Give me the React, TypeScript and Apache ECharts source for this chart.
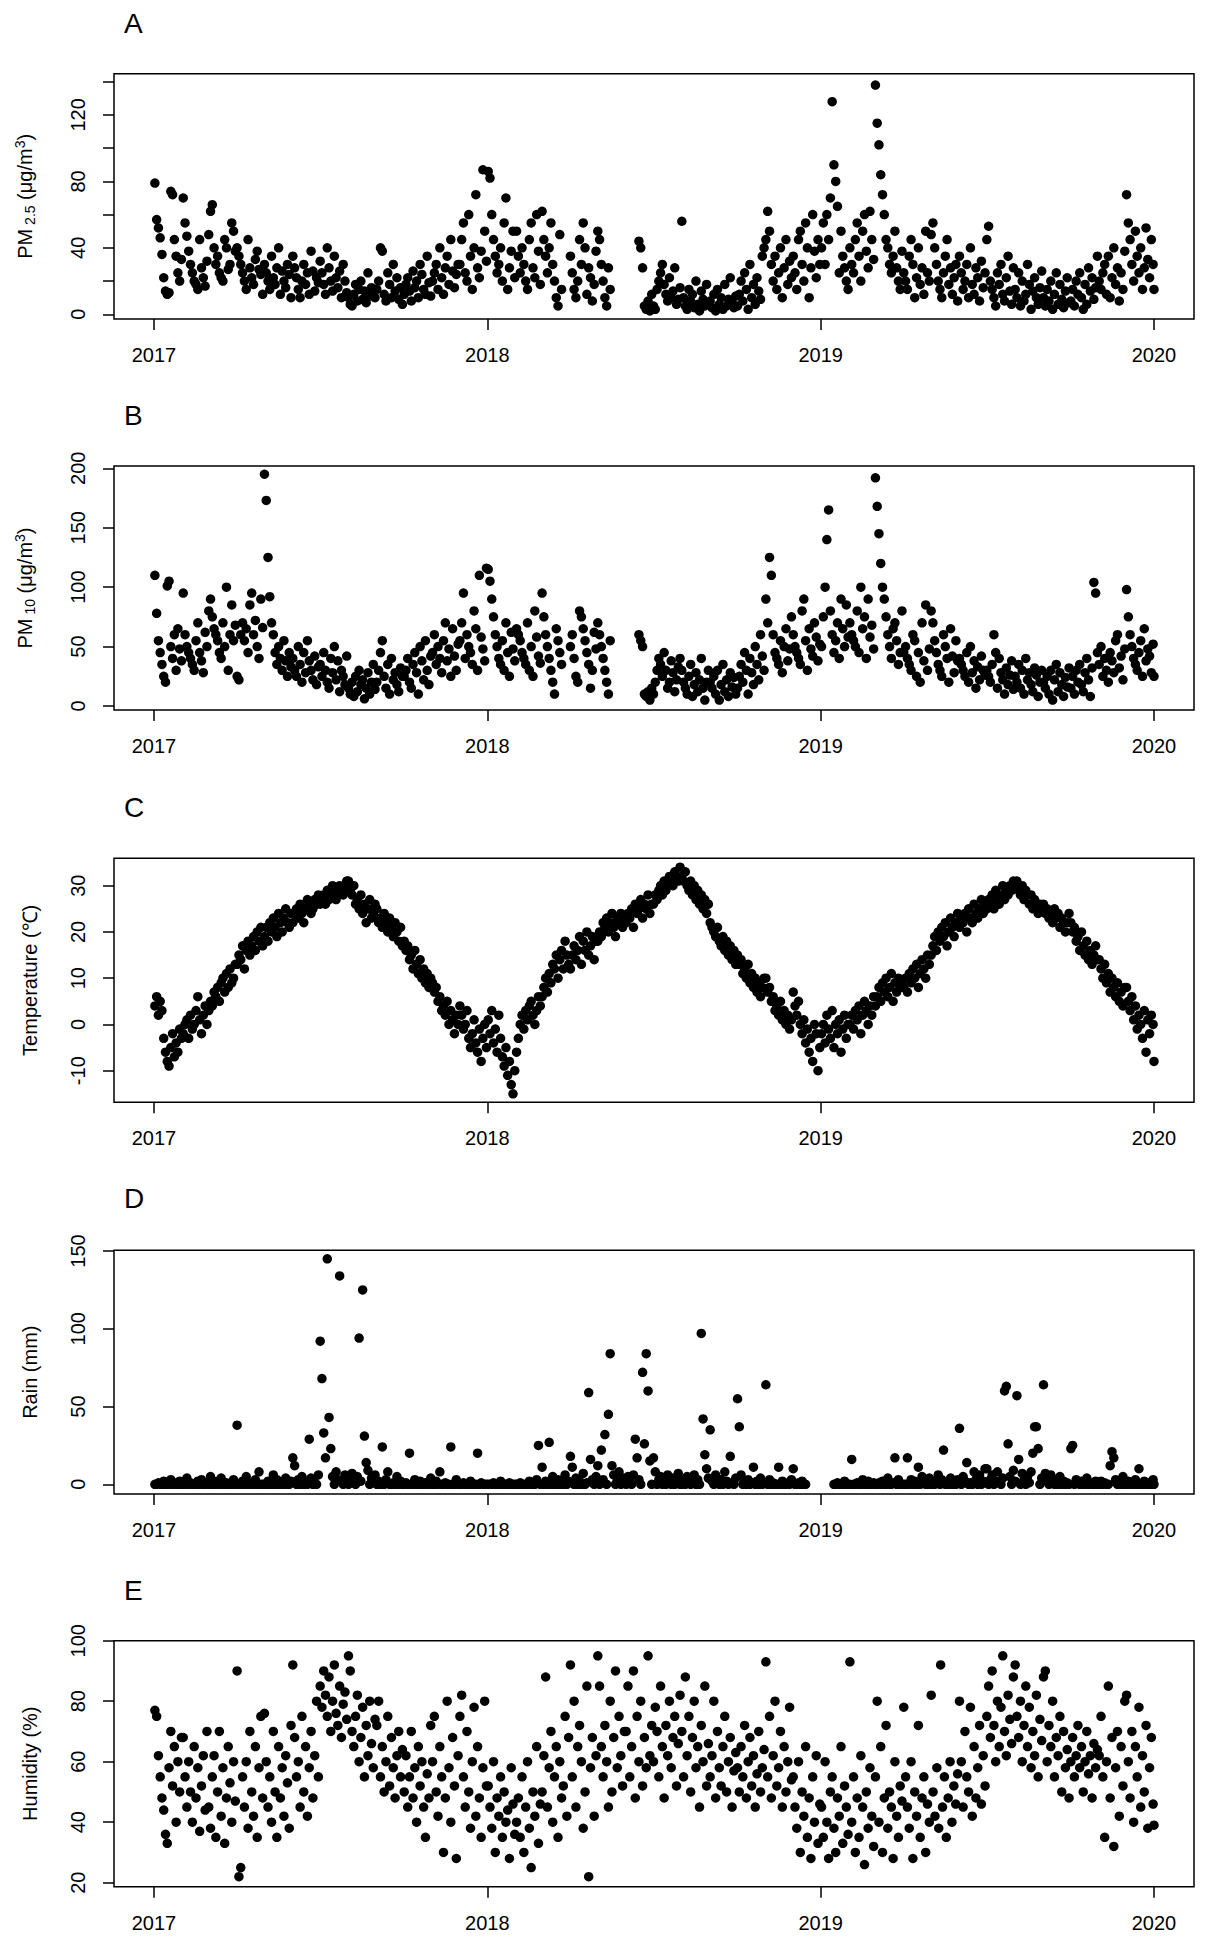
import React, { useEffect, useRef } from 'react';
import * as echarts from 'echarts';

type M = (number | null)[][];
const _ = null;

// ---------- PM2.5 (µg/m3), every ~2 days, one inner array per month ----------
const pm25_2017: M = [
  [79, 57, 52, 46, 36, 22, 14, 12, 13, 74, 72, 45, 35, 25, 20, 33],
  [70, 55, 47, 38, 30, 25, 20, 18, 15, 45, 28, 22, 17, 32],
  [48, 62, 66, 40, 30, 35, 25, 22, 20, 45, 40, 27, 30, 55, 50, 38],
  [40, 35, 30, 25, 20, 15, 45, 28, 22, 18, 33, 38, 27, 24, 12],
  [30, 25, 20, 15, 35, 22, 18, 28, 40, 12, 26, 20, 16, 30, 24, 10],
  [35, 28, 22, 15, 10, 20, 30, 18, 25, 12, 38, 26, 14, 22, 19],
  [32, 25, 18, 12, 40, 28, 20, 14, 35, 22, 16, 26, 10, 30, 20, 13],
  [10, 6, 5, 12, 18, 8, 15, 20, 9, 14, 7, 25, 11, 16, 13, 10],
  [15, 20, 40, 38, 12, 8, 25, 18, 10, 30, 14, 22, 9, 16, 6],
  [12, 18, 22, 14, 8, 26, 16, 20, 10, 30, 24, 15, 12, 35, 19, 11],
  [20, 25, 30, 15, 40, 22, 12, 28, 35, 18, 45, 26, 16, 24, 30],
  [30, 45, 55, 25, 20, 60, 35, 15, 40, 72, 28, 22, 38, 87, 50, 32],
];
const pm25_2018: M = [
  [86, 82, 60, 45, 35, 25, 30, 40, 20, 55, 70, 15, 28, 38, 50, 22],
  [50, 35, 25, 40, 30, 20, 15, 45, 55, 28, 22, 60, 38, 18],
  [62, 45, 35, 25, 40, 55, 30, 20, 10, 5, 48, 15, _, _, _, _],
  [35, 25, 15, 10, 20, 45, 30, 55, 40, 12, 28, 22, 8, 18, 38],
  [50, 45, 30, 20, 10, 5, 28, 15, _, _, _, _, _, _, _, _],
  [_, _, _, _, _, _, _, 44, 40, 28, 5, 3, 8, 2, 12],
  [5, 3, 15, 20, 25, 30, 18, 12, 8, 22, 10, 14, 28, 6, 9, 16],
  [56, 10, 5, 3, 15, 8, 12, 4, 20, 6, 2, 14, 9, 5, 18, 7],
  [8, 4, 12, 2, 15, 6, 10, 3, 18, 5, 9, 22, 7, 4, 11],
  [5, 12, 20, 8, 25, 15, 3, 30, 10, 18, 6, 22, 14, 9, 35, 40],
  [45, 62, 50, 30, 20, 35, 15, 25, 40, 10, 28, 45, 18, 32, 22],
  [35, 25, 15, 45, 50, 30, 20, 55, 40, 10, 28, 60, 38, 22, 45, 30],
];
const pm25_2019: M = [
  [40, 55, 30, 60, 45, 70, 128, 90, 80, 65, 25, 50, 35, 28, 20, 15],
  [40, 30, 25, 45, 55, 35, 20, 50, 60, 38, 28, 62, 45, 33],
  [138, 115, 102, 84, 72, 60, 45, 40, 30, 25, 35, 50, 28, 20, 15, 38],
  [25, 20, 15, 35, 45, 30, 10, 22, 40, 18, 28, 12, 50, 25, 20],
  [48, 55, 40, 30, 20, 15, 10, 25, 35, 45, 18, 28, 12, 22, 30, 8],
  [35, 25, 15, 20, 30, 10, 40, 18, 12, 28, 22, 8, 32, 16, 25],
  [45, 53, 20, 15, 10, 5, 25, 18, 30, 12, 8, 22, 35, 14, 6, 28],
  [15, 10, 25, 5, 20, 8, 12, 30, 18, 3, 14, 22, 10, 6, 16, 26],
  [10, 5, 15, 8, 20, 3, 12, 25, 6, 18, 9, 4, 14, 22, 7],
  [8, 15, 5, 20, 12, 25, 10, 3, 18, 6, 28, 14, 22, 9, 16, 35],
  [20, 15, 25, 30, 12, 35, 10, 22, 40, 18, 28, 8, 25, 15, 38],
  [72, 55, 45, 30, 20, 50, 35, 25, 40, 15, 28, 52, 33, 22, 45, 30],
];
const pm25_last = 15;

// ---------- PM10 (µg/m3) ----------
const pm10_2017: M = [
  [110, 78, 55, 45, 35, 25, 20, 101, 105, 50, 40, 60, 30, 65, 48, 38],
  [95, 60, 50, 45, 40, 35, 30, 55, 70, 45, 38, 28, 62, 50],
  [80, 90, 75, 65, 60, 55, 45, 40, 70, 50, 100, 30, 60, 85, 55, 68],
  [25, 22, 60, 70, 55, 65, 45, 85, 95, 60, 72, 50, 40, 90, 66],
  [195, 173, 125, 92, 70, 60, 45, 35, 50, 40, 30, 55, 38, 25, 45, 33],
  [40, 30, 25, 50, 35, 20, 45, 28, 55, 38, 30, 22, 42, 18, 33],
  [35, 25, 45, 30, 20, 15, 40, 28, 50, 22, 38, 12, 30, 25, 18, 42],
  [15, 10, 20, 8, 25, 12, 30, 18, 22, 6, 15, 28, 10, 20, 35, 14],
  [20, 30, 45, 55, 25, 15, 35, 10, 40, 22, 28, 18, 12, 32, 25],
  [25, 30, 40, 20, 15, 35, 45, 28, 10, 50, 38, 22, 55, 30, 18, 42],
  [45, 60, 35, 50, 40, 28, 55, 70, 38, 48, 25, 65, 42, 30, 52],
  [55, 70, 95, 40, 60, 50, 45, 35, 80, 65, 30, 110, 58, 48, 38, 116],
];
const pm10_2018: M = [
  [115, 105, 90, 75, 60, 50, 40, 35, 55, 30, 70, 45, 25, 62, 48, 38],
  [65, 60, 55, 45, 40, 35, 70, 30, 50, 25, 80, 58, 42, 36],
  [95, 75, 60, 50, 40, 30, 20, 10, 65, 55, 45, 35, _, _, _, _],
  [50, 60, 40, 25, 20, 80, 75, 65, 55, 45, 35, 15, 30, 62, 48],
  [70, 60, 50, 40, 30, 20, 10, 55, _, _, _, _, _, _, _, _],
  [_, _, _, _, _, _, _, 60, 55, 50, 10, 8, 12, 5, 15],
  [10, 20, 30, 40, 35, 25, 45, 30, 15, 20, 38, 28, 12, 22, 33, 40],
  [30, 20, 15, 10, 25, 35, 8, 18, 28, 12, 22, 40, 15, 5, 20, 30],
  [20, 15, 25, 10, 30, 5, 18, 35, 12, 22, 8, 28, 16, 24, 10],
  [15, 25, 35, 20, 45, 30, 10, 40, 28, 18, 50, 35, 22, 60, 42, 30],
  [90, 70, 125, 110, 60, 45, 40, 35, 55, 28, 50, 65, 38, 48, 75],
  [60, 50, 45, 40, 35, 80, 90, 55, 30, 65, 48, 42, 70, 58, 38, 52],
];
const pm10_2019: M = [
  [50, 75, 100, 140, 165, 80, 60, 45, 55, 70, 40, 90, 65, 50, 85, 58],
  [70, 60, 55, 50, 80, 45, 100, 65, 75, 40, 90, 58, 68, 48],
  [192, 168, 145, 120, 100, 90, 75, 60, 50, 40, 65, 70, 55, 35, 45, 80],
  [45, 50, 40, 35, 30, 60, 55, 25, 45, 20, 70, 38, 85, 30, 48],
  [80, 70, 55, 45, 35, 30, 25, 60, 50, 40, 20, 65, 42, 28, 55, 38],
  [40, 35, 30, 25, 45, 20, 50, 28, 38, 15, 33, 22, 42, 30, 26],
  [30, 25, 20, 35, 60, 45, 15, 40, 28, 22, 10, 32, 18, 26, 38, 14],
  [25, 20, 35, 15, 30, 10, 40, 22, 28, 18, 12, 32, 26, 8, 20, 30],
  [20, 15, 25, 10, 30, 5, 22, 35, 12, 28, 18, 8, 24, 16, 32],
  [15, 25, 10, 30, 20, 35, 18, 12, 28, 40, 22, 8, 32, 104, 95, 45],
  [35, 50, 25, 40, 30, 20, 45, 38, 28, 55, 60, 32, 42, 22, 48],
  [98, 75, 60, 50, 40, 35, 30, 45, 55, 25, 65, 38, 48, 42, 28, 52],
];
const pm10_last = 25;

// ---------- Temperature (℃) ----------
const temp_2017: M = [
  [4, 6, 2, 5, 3, -3, -6, -8, -9, -5, -2, -7, -4, -6, -1, -3],
  [-2, 0, 1, -3, 2, -1, 0, 3, 6, 1, -2, 2, 4, 0],
  [3, 5, 4, 7, 6, 8, 5, 9, 10, 7, 11, 8, 12, 9, 10, 13],
  [13, 15, 14, 17, 12, 16, 18, 15, 17, 19, 16, 20, 18, 21, 17],
  [19, 21, 18, 22, 20, 23, 21, 19, 24, 22, 20, 23, 25, 22, 21, 24],
  [22, 24, 25, 23, 26, 24, 22, 25, 27, 26, 24, 25, 27, 26, 28],
  [26, 27, 28, 26, 29, 27, 28, 30, 29, 27, 28, 30, 29, 28, 30, 31],
  [31, 29, 28, 30, 26, 27, 25, 28, 24, 26, 22, 25, 27, 23, 24, 26],
  [25, 22, 23, 21, 24, 22, 20, 23, 21, 19, 22, 20, 18, 21, 17],
  [18, 16, 17, 14, 15, 12, 16, 13, 11, 14, 10, 12, 9, 11, 8, 10],
  [9, 7, 8, 5, 6, 3, 4, 2, 5, 0, 3, 1, -2, 2, 0],
  [4, 2, -1, 0, 3, -3, -5, -2, 1, -4, -6, -1, -8, -3, 0, -5],
];
const temp_2018: M = [
  [1, -2, 3, -4, -1, -6, 2, -3, -7, -9, -5, -11, -8, -13, -15, -10],
  [-6, -3, 0, 2, -1, 3, 1, 4, 5, 2, 0, 3, 6, 4],
  [6, 8, 10, 7, 11, 9, 13, 12, 15, 10, 14, 16, 12, 18, 15, 13],
  [12, 15, 17, 14, 16, 19, 13, 18, 16, 20, 15, 17, 19, 14, 18],
  [18, 20, 19, 22, 21, 23, 20, 22, 24, 21, 19, 23, 22, 24, 21, 23],
  [22, 24, 23, 25, 21, 26, 24, 25, 27, 23, 26, 25, 28, 24, 26],
  [26, 28, 27, 29, 30, 28, 31, 29, 30, 32, 31, 30, 33, 32, 31, 34],
  [32, 31, 33, 30, 29, 31, 28, 30, 27, 29, 26, 28, 25, 27, 24, 26],
  [22, 21, 20, 19, 21, 18, 17, 19, 16, 18, 15, 17, 14, 16, 13],
  [15, 13, 14, 11, 12, 10, 13, 9, 11, 8, 10, 7, 9, 6, 8, 10],
  [10, 7, 8, 5, 6, 3, 4, 2, 5, 1, 3, 0, 2, -1, 1],
  [7, 4, 2, 5, 0, -2, 1, -4, -1, -6, -3, -8, 0, -2, -10, -5],
];
const temp_2019: M = [
  [-2, 0, -4, 2, -1, -3, 3, -5, 0, -2, 1, -6, -1, 2, -3, 0],
  [0, 2, -1, 3, 1, 4, -2, 2, 5, 3, 0, 4, 2, 6],
  [4, 6, 8, 5, 9, 7, 10, 6, 8, 11, 5, 9, 7, 10, 8, 9],
  [8, 10, 7, 11, 9, 12, 10, 13, 8, 11, 14, 12, 10, 15, 13],
  [15, 17, 19, 16, 20, 18, 21, 19, 22, 17, 20, 23, 21, 19, 22, 24],
  [21, 23, 22, 24, 20, 25, 23, 22, 26, 24, 23, 25, 27, 24, 26],
  [25, 27, 26, 28, 25, 29, 27, 26, 28, 30, 27, 29, 28, 30, 29, 31],
  [30, 31, 29, 28, 30, 27, 29, 28, 26, 28, 25, 27, 26, 24, 26, 25],
  [26, 24, 25, 23, 24, 22, 25, 23, 24, 21, 23, 22, 20, 22, 24],
  [22, 20, 21, 18, 19, 16, 20, 17, 15, 18, 14, 16, 13, 15, 17, 14],
  [14, 12, 10, 13, 9, 11, 7, 10, 8, 6, 9, 5, 7, 4, 8],
  [8, 5, 3, 6, 1, 4, -1, 2, 0, -3, 3, -6, 1, -2, 2, 0],
];
const temp_last = -8;

// ---------- Rain (mm) ----------
const rain_2017: M = [
  [0, 0, 1, 0, 0, 2, 0, 0, 0, 3, 0, 1, 0, 0, 2, 0],
  [0, 0, 4, 0, 1, 0, 0, 0, 2, 0, 3, 0, 0, 1],
  [0, 5, 0, 0, 0, 2, 0, 4, 0, 0, 1, 0, 0, 0, 3, 0],
  [38, 0, 0, 2, 0, 5, 0, 0, 1, 0, 3, 0, 8, 0, 0],
  [0, 0, 2, 0, 0, 6, 0, 3, 0, 0, 1, 0, 4, 0, 0, 2],
  [17, 12, 0, 3, 0, 5, 0, 2, 0, 29, 4, 0, 1, 0, 6],
  [92, 68, 33, 17, 145, 43, 23, 5, 0, 8, 3, 134, 2, 0, 6, 4],
  [0, 3, 7, 1, 0, 5, 94, 2, 125, 31, 14, 9, 0, 4, 2, 6],
  [0, 2, 0, 24, 0, 3, 8, 0, 0, 1, 0, 5, 0, 2, 0],
  [0, 1, 0, 20, 0, 0, 3, 0, 0, 2, 0, 0, 1, 0, 0, 4],
  [0, 0, 2, 0, 8, 0, 0, 1, 0, 0, 24, 0, 0, 3, 0],
  [0, 0, 1, 0, 0, 0, 2, 0, 0, 0, 20, 0, 1, 0, 0, 0],
];
const rain_2018: M = [
  [0, 0, 0, 1, 0, 0, 0, 2, 0, 0, 0, 0, 1, 0, 0, 0],
  [0, 0, 1, 0, 0, 0, 0, 2, 0, 0, 0, 3, 25, 0],
  [11, 0, 2, 0, 27, 0, 5, 0, 0, 3, 0, 1, 0, 6, 0, 2],
  [18, 11, 0, 4, 0, 2, 0, 7, 0, 1, 59, 16, 3, 0, 5],
  [12, 0, 22, 3, 32, 0, 45, 84, 12, 6, 0, 2, 8, 0, 4, 1],
  [0, 5, 2, 0, 6, 29, 17, 3, 0, 72, 26, 84, 60, 15, 0],
  [17, 8, 0, 3, 5, 0, 2, 0, 6, 1, 0, 4, 0, 2, 7, 0],
  [0, 3, 0, 5, 1, 0, 2, 6, 0, 3, 0, 97, 42, 19, 10, 4],
  [35, 2, 0, 6, 1, 0, 3, 0, 8, 2, 0, 18, 1, 0, 4],
  [55, 37, 6, 0, 2, 0, 3, 0, 1, 11, 0, 2, 0, 4, 0, 1],
  [64, 0, 3, 0, 1, 0, 0, 11, 0, 2, 0, 0, 1, 0, 3],
  [10, 0, 0, 1, 0, 2, 0, 0, _, _, _, _, _, _, _, _],
];
const rain_2019: M = [
  [_, _, _, _, _, _, _, 0, 0, 1, 0, 0, 0, 2, 0, 0],
  [0, 16, 0, 0, 1, 0, 0, 3, 0, 0, 2, 0, 0, 1],
  [0, 0, 1, 0, 2, 0, 0, 4, 0, 0, 1, 17, 0, 3, 0, 0],
  [0, 0, 17, 0, 3, 0, 2, 0, 11, 0, 5, 1, 0, 0, 4],
  [0, 2, 0, 1, 6, 0, 3, 22, 0, 1, 0, 4, 0, 2, 0, 3],
  [36, 0, 5, 2, 14, 0, 1, 0, 8, 3, 0, 6, 0, 2, 10],
  [10, 0, 3, 6, 0, 2, 8, 1, 0, 4, 60, 63, 26, 5, 0, 9],
  [2, 57, 16, 0, 7, 3, 0, 5, 1, 8, 20, 37, 37, 23, 0, 4],
  [64, 7, 2, 0, 6, 1, 0, 3, 0, 5, 0, 2, 0, 1, 0],
  [23, 25, 0, 3, 1, 0, 2, 0, 0, 4, 0, 1, 0, 0, 2, 0],
  [0, 2, 0, 1, 0, 0, 12, 21, 17, 3, 0, 1, 0, 5, 0],
  [0, 2, 0, 1, 0, 3, 0, 10, 0, 0, 2, 0, 1, 0, 0, 3],
];
const rain_last = 0;

// ---------- Humidity (%) ----------
const hum_2017: M = [
  [77, 75, 62, 55, 48, 44, 36, 33, 58, 70, 52, 65, 40, 60, 50, 68],
  [68, 55, 45, 60, 50, 40, 65, 48, 58, 37, 52, 62, 44, 70],
  [45, 38, 55, 62, 35, 50, 70, 42, 58, 33, 48, 65, 53, 40, 60, 47],
  [90, 22, 25, 55, 45, 60, 38, 70, 50, 42, 65, 35, 58, 75, 48],
  [76, 60, 45, 55, 40, 70, 50, 35, 65, 48, 58, 42, 62, 53, 38, 72],
  [92, 68, 55, 60, 45, 75, 50, 65, 42, 58, 70, 48, 62, 80, 55],
  [85, 78, 90, 82, 75, 88, 70, 80, 92, 76, 72, 85, 68, 79, 83, 74],
  [95, 90, 70, 65, 75, 82, 60, 68, 78, 55, 72, 62, 80, 66, 58, 74],
  [72, 80, 55, 65, 50, 60, 75, 52, 68, 58, 48, 62, 70, 55, 64],
  [50, 62, 45, 55, 70, 48, 58, 40, 65, 52, 60, 45, 35, 56, 48, 72],
  [60, 75, 50, 42, 65, 55, 30, 48, 80, 58, 40, 68, 52, 28, 62],
  [75, 82, 55, 45, 70, 50, 38, 60, 78, 42, 65, 48, 35, 58, 80, 52],
];
const hum_2018: M = [
  [52, 45, 38, 60, 30, 48, 42, 55, 35, 50, 40, 44, 28, 58, 46, 36],
  [40, 48, 35, 55, 30, 45, 60, 38, 25, 50, 42, 65, 33, 46],
  [50, 62, 88, 45, 58, 70, 40, 55, 65, 35, 60, 48, 52, 75, 42, 68],
  [92, 55, 80, 45, 65, 72, 60, 38, 50, 85, 22, 58, 68, 42, 62],
  [95, 85, 65, 55, 72, 60, 45, 80, 50, 68, 90, 58, 75, 62, 52, 70],
  [70, 85, 55, 65, 90, 48, 75, 60, 80, 52, 68, 58, 95, 62, 72],
  [60, 78, 70, 55, 85, 65, 48, 72, 62, 80, 58, 68, 75, 52, 66, 82],
  [70, 55, 88, 62, 75, 50, 68, 80, 58, 65, 45, 72, 60, 85, 52, 66],
  [55, 62, 80, 48, 70, 58, 52, 65, 75, 50, 60, 68, 45, 57, 63],
  [58, 50, 65, 55, 72, 48, 60, 68, 52, 62, 45, 56, 70, 50, 58, 64],
  [93, 55, 75, 48, 62, 80, 52, 58, 70, 45, 65, 50, 60, 78, 54],
  [55, 45, 38, 60, 30, 50, 42, 65, 35, 48, 28, 55, 40, 62, 33, 46],
];
const hum_2019: M = [
  [45, 35, 60, 40, 28, 50, 55, 38, 30, 48, 42, 65, 33, 52, 45, 36],
  [93, 40, 55, 30, 48, 35, 62, 45, 26, 50, 38, 58, 42, 32],
  [55, 80, 40, 65, 30, 48, 72, 38, 50, 45, 28, 60, 42, 35, 52, 47],
  [78, 55, 45, 38, 60, 28, 50, 42, 72, 35, 48, 55, 30, 46, 40],
  [82, 50, 42, 58, 38, 92, 45, 55, 35, 48, 60, 40, 52, 46, 56],
  [80, 60, 45, 70, 55, 50, 78, 42, 65, 48, 58, 72, 46, 62, 52],
  [75, 85, 68, 90, 72, 60, 80, 65, 78, 95, 70, 62, 82, 74, 66, 88],
  [92, 75, 68, 80, 60, 72, 85, 65, 78, 58, 70, 62, 82, 55, 74, 67],
  [88, 90, 60, 72, 65, 80, 55, 68, 62, 75, 50, 70, 58, 64, 48],
  [60, 68, 55, 62, 72, 58, 65, 50, 60, 70, 56, 62, 48, 66, 58, 64],
  [62, 75, 55, 35, 60, 85, 48, 68, 32, 58, 70, 42, 65, 52, 80],
  [82, 60, 48, 70, 40, 65, 55, 78, 45, 62, 50, 72, 38, 58, 68, 46],
];
const hum_last = 39;

const yearTicks = [2017, 2018, 2019, 2020];
const MONTH_DAYS = [31, 28, 31, 30, 31, 30, 31, 31, 30, 31, 30, 31];

function toPoints(years: M[], last: number): number[][] {
  const pts: number[][] = [];
  years.forEach((months, yi) => {
    let start = 0;
    months.forEach((vals, m) => {
      vals.forEach((v, k) => {
        if (v !== null) {
          const day = start + ((k + 0.5) * MONTH_DAYS[m]) / vals.length;
          pts.push([yearTicks[0] + yi + day / 365, v]);
        }
      });
      start += MONTH_DAYS[m];
    });
  });
  pts.push([yearTicks[yearTicks.length - 1], last]);
  return pts;
}

const FONT = '"Liberation Sans", Arial, Helvetica, sans-serif';

const RICH = {
  a: { fontSize: 20, fontFamily: FONT, fill: '#000', lineHeight: 24 },
  s: { fontSize: 14, fontFamily: FONT, fill: '#000', lineHeight: 14, verticalAlign: 'bottom' },
  p: { fontSize: 14, fontFamily: FONT, fill: '#000', lineHeight: 14, verticalAlign: 'top' },
};

const panels = [
  {
    letter: 'A', titleY: 23, boxTop: 73.7, boxBottom: 319, tickTop: 81.7, tickBottom: 314.3,
    yMin: 0, yMax: 140, interval: 20, labelStep: 40, nameX: 25,
    name: '{a|PM}{s| 2.5}{a| (μg/m}{p|3}{a|)}',
    pts: toPoints([pm25_2017, pm25_2018, pm25_2019], pm25_last),
  },
  {
    letter: 'B', titleY: 415, boxTop: 466, boxBottom: 710, tickTop: 468.3, tickBottom: 706,
    yMin: 0, yMax: 200, interval: 50, labelStep: 50, nameX: 25,
    name: '{a|PM}{s| 10}{a| (μg/m}{p|3}{a|)}',
    pts: toPoints([pm10_2017, pm10_2018, pm10_2019], pm10_last),
  },
  {
    letter: 'C', titleY: 807, boxTop: 858.3, boxBottom: 1102.3, tickTop: 885.7, tickBottom: 1070.7,
    yMin: -10, yMax: 30, interval: 10, labelStep: 10, nameX: 30,
    name: '{a|Temperature (℃)}',
    pts: toPoints([temp_2017, temp_2018, temp_2019], temp_last),
  },
  {
    letter: 'D', titleY: 1198, boxTop: 1250.3, boxBottom: 1494, tickTop: 1251, tickBottom: 1484.3,
    yMin: 0, yMax: 150, interval: 50, labelStep: 50, nameX: 30,
    name: '{a|Rain (mm)}',
    pts: toPoints([rain_2017, rain_2018, rain_2019], rain_last),
  },
  {
    letter: 'E', titleY: 1590, boxTop: 1640.7, boxBottom: 1886.7, tickTop: 1640.7, tickBottom: 1882.7,
    yMin: 20, yMax: 100, interval: 20, labelStep: 20, nameX: 30,
    name: '{a|Humidity (%)}',
    pts: toPoints([hum_2017, hum_2018, hum_2019], hum_last),
  },
];

const BOX_LEFT = 114;
const BOX_W = 1080;
const TICK_LEFT = 154;
const TICK_W = 1000;

function buildOption() {
  const grid: any[] = [];
  const xAxis: any[] = [];
  const yAxis: any[] = [];
  const series: any[] = [];
  const graphic: any[] = [];
  const x0 = yearTicks[0];
  const x1 = yearTicks[yearTicks.length - 1];
  const padYears = ((TICK_LEFT - BOX_LEFT) / TICK_W) * (x1 - x0);

  panels.forEach((p, i) => {
    const ppu = (p.tickBottom - p.tickTop) / (p.yMax - p.yMin);
    const boxMin = p.yMin - (p.boxBottom - p.tickBottom) / ppu;
    const boxMax = p.yMax + (p.tickTop - p.boxTop) / ppu;
    const gData = 2 * i;
    const gTick = 2 * i + 1;

    grid.push({
      left: BOX_LEFT, width: BOX_W, top: p.boxTop, height: p.boxBottom - p.boxTop,
      show: true, borderColor: '#000', borderWidth: 1.5, backgroundColor: 'transparent',
      containLabel: false,
    });
    grid.push({
      left: TICK_LEFT, width: TICK_W, top: p.tickTop, height: p.tickBottom - p.tickTop,
      show: false, containLabel: false,
    });

    xAxis.push({
      gridIndex: gData, type: 'value', min: x0 - padYears, max: x1 + padYears, show: false,
    });
    yAxis.push({
      gridIndex: gData, type: 'value', min: boxMin, max: boxMax, show: false,
    });
    xAxis.push({
      gridIndex: gTick, type: 'value', min: x0, max: x1, interval: 1, position: 'bottom',
      offset: p.boxBottom - p.tickBottom,
      axisLine: { show: false, onZero: false },
      axisTick: { show: true, length: 11, lineStyle: { color: '#000', width: 1.5 } },
      axisLabel: {
        show: true, color: '#000', fontSize: 20, fontFamily: FONT, margin: 26,
        showMinLabel: true, showMaxLabel: true,
        formatter: (v: number) => String(Math.round(v)),
      },
      splitLine: { show: false },
    });
    yAxis.push({
      gridIndex: gTick, type: 'value', min: p.yMin, max: p.yMax, interval: p.interval,
      position: 'left', offset: TICK_LEFT - BOX_LEFT,
      axisLine: { show: false, onZero: false },
      axisTick: { show: true, length: 11, lineStyle: { color: '#000', width: 1.5 } },
      axisLabel: {
        show: true, color: '#000', fontSize: 20, fontFamily: FONT, margin: 26, rotate: 90,
        showMinLabel: true, showMaxLabel: true,
        formatter: (v: number) => (Math.round(v - p.yMin) % p.labelStep === 0 ? String(Math.round(v)) : ''),
      },
      splitLine: { show: false },
    });

    series.push({
      type: 'scatter', xAxisIndex: gData, yAxisIndex: gData, data: p.pts,
      symbol: 'circle', symbolSize: 9.5, silent: true,
      itemStyle: { color: '#000', opacity: 1 },
    });

    graphic.push({
      type: 'text', x: 124, y: p.titleY, silent: true,
      style: { text: p.letter, fontSize: 28, fontFamily: FONT, fill: '#000', align: 'left', verticalAlign: 'middle' },
    });
    graphic.push({
      type: 'text', x: p.nameX, y: (p.boxTop + p.boxBottom) / 2, rotation: Math.PI / 2, silent: true,
      style: {
        text: p.name, rich: RICH, fontSize: 20, fontFamily: FONT, fill: '#000',
        align: 'center', verticalAlign: 'middle',
      },
    });
  });

  return {
    animation: false,
    backgroundColor: '#fff',
    textStyle: { fontFamily: FONT, color: '#000' },
    grid, xAxis, yAxis, series, graphic,
  };
}

export default function App() {
  const ref = useRef<HTMLDivElement>(null);
  useEffect(() => {
    document.body.style.margin = '0';
    document.body.style.overflow = 'hidden';
    if (!ref.current) return;
    const chart = echarts.init(ref.current, null, { renderer: 'svg' });
    chart.setOption(buildOption() as any);
    return () => chart.dispose();
  }, []);
  return <div ref={ref} style={{ width: 1210, height: 1942, background: '#fff' }} />;
}
